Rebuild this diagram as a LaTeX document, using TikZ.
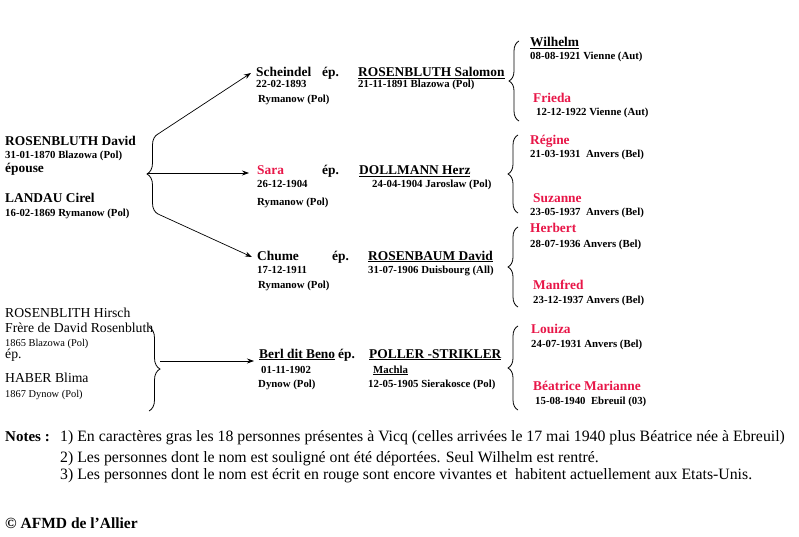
\documentclass[tikz,border=0pt]{standalone}
\usepackage{fontspec}
\setmainfont{Liberation Serif}
\usetikzlibrary{arrows.meta,decorations.pathreplacing}
\definecolor{rouge}{RGB}{232,22,72}
\begin{document}
\begin{tikzpicture}[x=1pt,y=-1pt,
  nm/.style={anchor=base west,inner sep=0pt,font=\fontsize{13.4}{13}\selectfont\bfseries},
  dt/.style={anchor=base west,inner sep=0pt,font=\fontsize{10.8}{10}\selectfont\bfseries},
  rnm/.style={anchor=base west,inner sep=0pt,font=\fontsize{13.7}{13}\selectfont},
  rdt/.style={anchor=base west,inner sep=0pt,font=\fontsize{10.4}{10}\selectfont},
  nt/.style={anchor=base west,inner sep=0pt,font=\fontsize{15.8}{15}\selectfont},
  rd/.style={text=rouge},
  brc/.style={decorate,decoration={brace,amplitude=6pt},line width=0.8pt},
  arr/.style={line width=0.7pt,-{Stealth[length=7pt,width=5pt]}}]
\useasboundingbox (0,0) rectangle (799,537);
\fill[white] (0,0) rectangle (799,537);

% parents
\node[nm] (david) at (5,146) {ROSENBLUTH David};
\node[dt] (davidd) at (5,159) {31-01-1870 Blazowa (Pol)};
\node[nm] (epouse) at (5,173) {épouse};
\node[nm] (cirel) at (5,203) {LANDAU Cirel};
\node[dt] (cireld) at (5,216) {16-02-1869 Rymanow (Pol)};

\coordinate (b1bot) at (158,214);
\coordinate (b1top) at (158,134);
\draw[brc,decoration={amplitude=11pt}] (b1bot) -- (b1top);
\coordinate (b1tip) at (147,173);

% Scheindel
\node[nm] (scheindel) at (256,77) {Scheindel};
\node[nm] (ep1) at (322,77) {ép.};
\node[nm] (salomon) at (358,77) {\underline{ROSENBLUTH Salomon}};
\node[dt] (scheindeld) at (256,88) {22-02-1893};
\node[dt] (scheindelp) at (258,103) {Rymanow (Pol)};
\node[dt] (salomond) at (358,88) {21-11-1891 Blazowa (Pol)};

% Sara
\node[nm,rd] (sara) at (257,175) {Sara};
\node[nm] (ep2) at (322,175) {ép.};
\node[nm] (herz) at (359,175) {\underline{DOLLMANN Herz}};
\node[dt] (sarad) at (257,188) {26-12-1904};
\node[dt] (sarap) at (257,205) {Rymanow (Pol)};
\node[dt] (herzd) at (372,188) {24-04-1904 Jaroslaw (Pol)};

% Chume
\node[nm] (chume) at (257,260) {Chume};
\node[nm] (ep3) at (332,260) {ép.};
\node[nm] (rosenbaum) at (368,260) {\underline{ROSENBAUM David}};
\node[dt] (chumed) at (257,273) {17-12-1911};
\node[dt] (chumep) at (258,288) {Rymanow (Pol)};
\node[dt] (rosenbaumd) at (368,273) {31-07-1906 Duisbourg (All)};

\draw[arr] (b1top) -- ([xshift=-5pt,yshift=4pt]scheindel.base west);
\draw[arr] (b1tip) -- ([xshift=-8pt]sara.base west |- b1tip);
\draw[arr] (b1bot) -- ([xshift=-5pt,yshift=3pt]chume.base west);

% Hirsch
\node[rnm] (hirsch) at (5,317) {ROSENBLITH Hirsch};
\node[rnm] (frere) at (5,332) {Frère de David Rosenbluth};
\node[rdt] (hirschd) at (5,346) {1865 Blazowa (Pol)};
\node[rnm] (ep4) at (5,358) {ép.};
\node[rnm] (blima) at (5,382) {HABER Blima};
\node[rdt] (blimad) at (5,397) {1867 Dynow (Pol)};

\coordinate (b2top) at (149,327);
\coordinate (b2bot) at (149,411);
\draw[brc,decoration={amplitude=11pt}] (b2top) -- (b2bot);
\coordinate (b2tip) at (160,361);

% Berl
\node[nm] (berl) at (259,358) {\underline{Berl dit Beno}};
\node[nm] (ep5) at (338,358) {ép.};
\node[nm] (poller) at (369,358) {\underline{POLLER -STRIKLER}};
\node[dt] (berld) at (261,373) {01-11-1902};
\node[dt] (machla) at (373,373) {\underline{Machla}};
\node[dt] (berlp) at (258,387) {Dynow (Pol)};
\node[dt] (pollerd) at (368,387) {12-05-1905 Sierakosce (Pol)};
\draw[arr] (b2tip) -- ([xshift=-5pt]berl.base west |- b2tip);

% children braces
\draw[brc,decoration={amplitude=10pt}] (519,121) -- (519,41);
\draw[brc,decoration={amplitude=10pt}] (518,213) -- (518,135);
\draw[brc,decoration={amplitude=10pt}] (518,307) -- (518,227);
\draw[brc,decoration={amplitude=10pt}] (518,410) -- (518,326);

% children
\node[nm] (wilhelm) at (530,47) {\underline{Wilhelm}};
\node[dt] (wilhelmd) at (530,60) {08-08-1921 Vienne (Aut)};
\node[nm,rd] (frieda) at (533,103) {Frieda};
\node[dt] (friedad) at (536,116) {12-12-1922 Vienne (Aut)};

\node[nm,rd] (regine) at (530,145) {Régine};
\node[dt] (regined) at (530,158) {21-03-1931\ \ Anvers (Bel)};
\node[nm,rd] (suzanne) at (533,203) {Suzanne};
\node[dt] (suzanned) at (530,215) {23-05-1937\ \ Anvers (Bel)};

\node[nm,rd] (herbert) at (530,232) {Herbert};
\node[dt] (herbertd) at (530,247) {28-07-1936 Anvers (Bel)};
\node[nm,rd] (manfred) at (533,289) {Manfred};
\node[dt] (manfredd) at (533,303) {23-12-1937 Anvers (Bel)};

\node[nm,rd] (louiza) at (531,333) {Louiza};
\node[dt] (louizad) at (531,347) {24-07-1931 Anvers (Bel)};
\node[nm,rd] (beatrice) at (533,390) {Béatrice Marianne};
\node[dt] (beatriced) at (535,404) {15-08-1940\ \ Ebreuil (03)};

% notes
\node[nm,font=\fontsize{15}{15}\selectfont\bfseries] (notes) at (5,441) {Notes :};
\node[nt] (n1) at (60,441) {1) En caractères gras les 18 personnes présentes à Vicq (celles arrivées le 17 mai 1940 plus Béatrice née à Ebreuil)};
\node[nt] (n2) at (60,462) {2) Les personnes dont le nom est souligné ont été déportées. Seul Wilhelm est rentré.};
\node[nt] (n3) at (60,479) {3) Les personnes dont le nom est écrit en rouge sont encore vivantes et\ \ habitent actuellement aux Etats-Unis.};

\node[nm,font=\fontsize{15.5}{15}\selectfont\bfseries] (copy) at (5,528) {© AFMD de l'Allier};
\end{tikzpicture}
\end{document}
